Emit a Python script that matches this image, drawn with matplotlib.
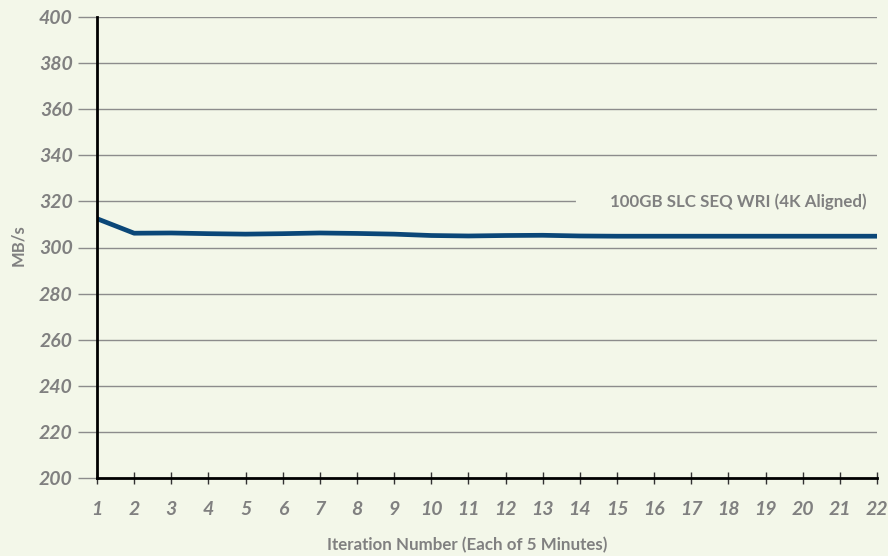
import matplotlib
matplotlib.use('Agg')
import matplotlib.pyplot as plt

iterations = list(range(1, 23))
mbps = [312.5, 306.2, 306.3, 306.0, 305.8, 306.0, 306.3, 306.1, 305.8, 305.2,
        305.0, 305.2, 305.3, 305.0, 304.9, 304.9, 304.9, 304.9, 304.9, 304.9,
        304.9, 304.9]
y_ticks = list(range(200, 401, 20))
series_label = '100GB SLC SEQ WRI (4K Aligned)'

bg = '#f3f7e9'
grey_txt = '#808080'
grid_col = '#8c8c8c'
line_col = '#0b4778'

plt.rcParams['font.family'] = ['Lato', 'DejaVu Sans']

fig = plt.figure(figsize=(8.88, 5.56), dpi=100, facecolor=bg)
ax = fig.add_axes([97 / 888, 78 / 556, 780 / 888, 461 / 556])
ax.set_facecolor(bg)

ax.set_xlim(1, 22)
ax.set_ylim(200, 400)

# grid lines
for y in y_ticks[1:]:
    ax.axhline(y, color=grid_col, lw=1.0, zorder=1)

ax.plot(iterations, mbps, color=line_col, lw=3.4, solid_capstyle='butt', zorder=3)

ax.text(21.72, 320, series_label, ha='right', va='center', fontsize=12.2,
        fontweight='bold', color=grey_txt, zorder=4)
# cover the grid under the label
ax.axhline(320, xmin=(13.95 - 1) / 21, xmax=1.0, color=bg, lw=3, zorder=2)

for s in ['top', 'right']:
    ax.spines[s].set_visible(False)
ax.spines['left'].set_color('black')
ax.spines['left'].set_linewidth(2)
ax.spines['bottom'].set_color('black')
ax.spines['bottom'].set_linewidth(2)
ax.spines['left'].set_zorder(5)

ax.set_xticks(iterations)
ax.set_yticks(y_ticks)
ax.tick_params(axis='x', direction='inout', length=9, width=1, color='#333333',
               labelsize=14, labelcolor=grey_txt, pad=12)
ax.tick_params(axis='y', direction='out', length=14, width=1, color=grid_col,
               labelsize=14, labelcolor=grey_txt, pad=3.5)
for lab in ax.get_xticklabels() + ax.get_yticklabels():
    lab.set_fontstyle('italic')
    lab.set_fontweight('bold')

fig.text(467 / 888, 1 - 545 / 556, 'Iteration Number (Each of 5 Minutes)', ha='center',
         va='center', fontsize=12.2, fontweight='bold', color=grey_txt)
fig.text(18 / 888, 1 - 245 / 556, 'MB/s', ha='center', va='center', rotation=90,
         fontsize=12, fontweight='bold', color=grey_txt)

fig.savefig('out.png', dpi=100, facecolor=bg)
